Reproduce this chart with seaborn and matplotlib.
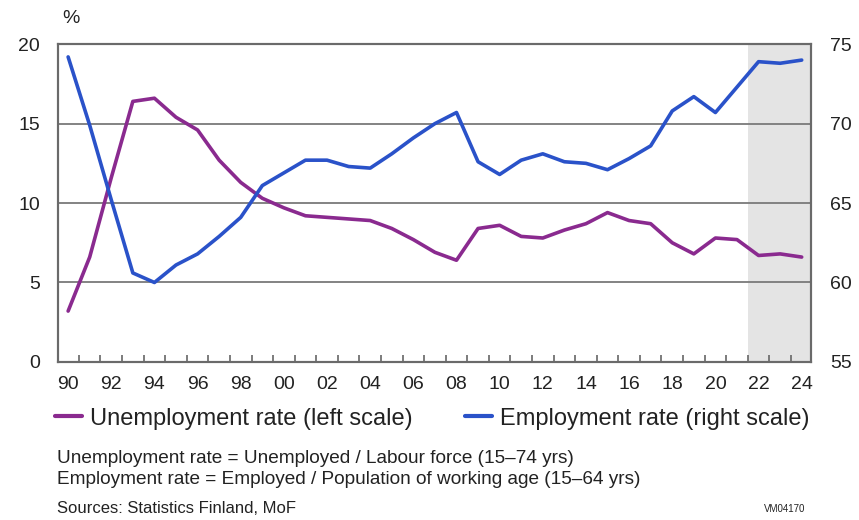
import matplotlib
matplotlib.use("Agg")
import matplotlib.pyplot as plt
import seaborn as sns
import pandas as pd
from matplotlib.lines import Line2D
from matplotlib.ticker import FixedLocator, NullFormatter

years = list(range(1990, 2025))
unemployment = [3.2, 6.6, 11.6, 16.4, 16.6, 15.4, 14.6, 12.7, 11.3, 10.3,
                9.7, 9.2, 9.1, 9.0, 8.9, 8.4, 7.7, 6.9, 6.4, 8.4,
                8.6, 7.9, 7.8, 8.3, 8.7, 9.4, 8.9, 8.7, 7.5, 6.8,
                7.8, 7.7, 6.7, 6.8, 6.6]
employment = [74.2, 69.9, 65.2, 60.6, 60.0, 61.1, 61.8, 62.9, 64.1, 66.1,
              66.9, 67.7, 67.7, 67.3, 67.2, 68.1, 69.1, 70.0, 70.7, 67.6,
              66.8, 67.7, 68.1, 67.6, 67.5, 67.1, 67.8, 68.6, 70.8, 71.7,
              70.7, 72.3, 73.9, 73.8, 74.0]
x_labels = ["90", "92", "94", "96", "98", "00", "02", "04", "06", "08",
            "10", "12", "14", "16", "18", "20", "22", "24"]
left_ticks = [0, 5, 10, 15, 20]
right_ticks = [55, 60, 65, 70, 75]
unemp_label = "Unemployment rate (left scale)"
emp_label = "Employment rate (right scale)"
note1 = "Unemployment rate = Unemployed / Labour force (15\u201374 yrs)"
note2 = "Employment rate = Employed / Population of working age (15\u201364 yrs)"
source = "Sources: Statistics Finland, MoF"
code = "VM04170"
forecast_start = 2021.5

PURPLE = "#8a2a8f"
BLUE = "#2a52c9"
GRID = "#7a7a7a"
TXT = "#222222"

df = pd.DataFrame({"year": years, "unemp": unemployment, "emp": employment})

sns.set_theme(style="white")
plt.rcParams["font.family"] = ["Liberation Sans", "DejaVu Sans"]

fig = plt.figure(figsize=(8.59, 5.2), dpi=100)
ax = fig.add_axes([0.0675, 0.304, 0.8766, 0.611])
ax2 = ax.twinx()

xmin, xmax = 1989.53, 2024.43
ax.axvspan(forecast_start, xmax, color="#e4e4e4", zorder=0, lw=0)

for v in [5, 10, 15]:
    ax.axhline(v, color=GRID, lw=1.3, zorder=1)

sns.lineplot(data=df, x="year", y="unemp", ax=ax, color=PURPLE, lw=2.6, zorder=3)
sns.lineplot(data=df, x="year", y="emp", ax=ax2, color=BLUE, lw=2.6, zorder=3)

ax.set_xlim(xmin, xmax)
ax.set_ylim(0, 20)
ax2.set_ylim(55, 75)
ax.set_xlabel("")
ax.set_ylabel("")
ax2.set_ylabel("")

ax.set_xticks(list(range(1990, 2025, 2)))
ax.set_xticklabels(x_labels)
ax.xaxis.set_minor_locator(FixedLocator([y + 0.5 for y in range(1990, 2024)]))
ax.xaxis.set_minor_formatter(NullFormatter())
ax.tick_params(axis="x", which="major", length=0, pad=10, labelsize=14, labelcolor=TXT)
ax.tick_params(axis="x", which="minor", direction="in", length=5, width=1.2, color="#666666", bottom=True)

ax.set_yticks(left_ticks)
ax.tick_params(axis="y", length=0, pad=13, labelsize=14, labelcolor=TXT)
ax2.set_yticks(right_ticks)
ax2.tick_params(axis="y", length=0, pad=14, labelsize=14, labelcolor=TXT)

for a in (ax, ax2):
    for s in a.spines.values():
        s.set_visible(True)
        s.set_color("#6a6a6a")
        s.set_linewidth(1.5)
ax.grid(False)
ax2.grid(False)

fig.text(0.072, 0.965, "%", fontsize=14, color=TXT, ha="left", va="center")

handles = [Line2D([0], [0], color=PURPLE, lw=3), Line2D([0], [0], color=BLUE, lw=3)]
fig.legend(handles, [unemp_label, emp_label], loc="center left",
           bbox_to_anchor=(0.064, 0.195), ncol=2, frameon=False,
           fontsize=17, handlelength=1.15, handletextpad=0.35, columnspacing=2.2,
           labelcolor=TXT, borderaxespad=0, borderpad=0)

fig.text(0.066, 0.119, note1, fontsize=13.7, color=TXT, ha="left", va="center")
fig.text(0.066, 0.078, note2, fontsize=13.7, color=TXT, ha="left", va="center")
fig.text(0.066, 0.022, source, fontsize=12, color=TXT, ha="left", va="center")
fig.text(0.937, 0.022, code, fontsize=7, color=TXT, ha="right", va="center")

fig.savefig("out.png", dpi=100, facecolor="white")
